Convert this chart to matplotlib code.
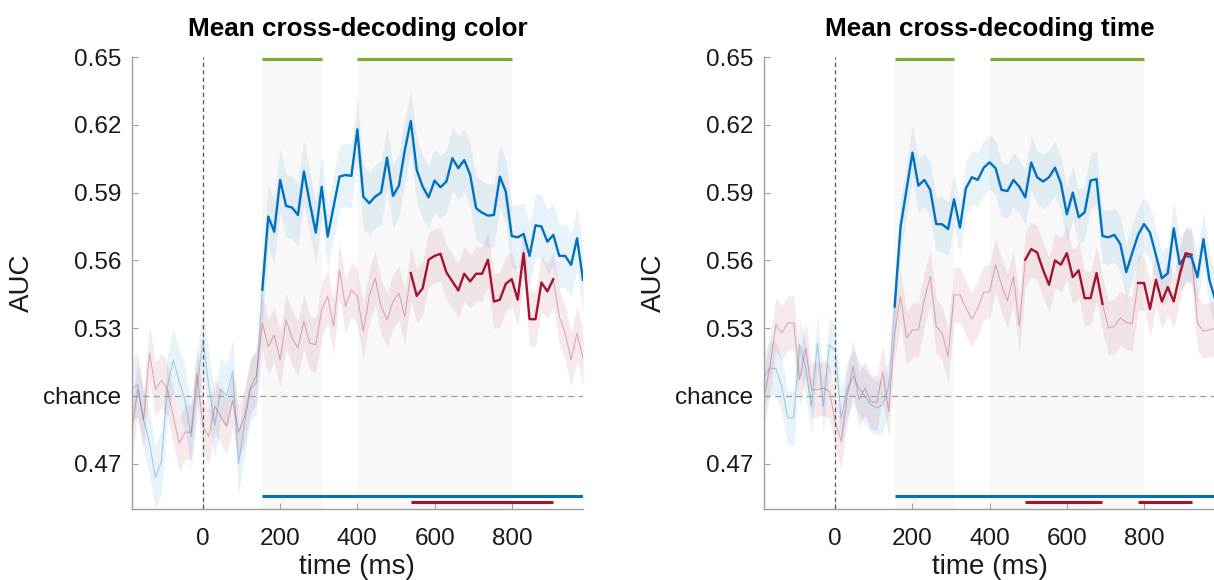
import numpy as np
import matplotlib
matplotlib.use("Agg")
import matplotlib.pyplot as plt

plt.rcParams['font.family'] = ['Liberation Sans', 'DejaVu Sans']

# ---------------- data ----------------
time_ms = np.linspace(-184, 984, 77)  # sampling grid (ms)

color_blue = [
    0.503, 0.505, 0.4895, 0.479, 0.464, 0.471, 0.504, 0.516, 0.5065, 0.498,
    0.482, 0.504, 0.525, 0.504, 0.487, 0.503, 0.500, 0.511, 0.470, 0.488,
    0.503, 0.506,
    0.5470, 0.5794, 0.5727, 0.5956, 0.5841, 0.5834, 0.5801, 0.5993, 0.5853, 0.5723,
    0.5926, 0.5705, 0.5838, 0.5971, 0.5978, 0.5974, 0.6180, 0.5882, 0.5853, 0.5882,
    0.5900, 0.6055, 0.5885, 0.5931, 0.6089, 0.6217, 0.6000, 0.5926, 0.5879, 0.5953,
    0.5924, 0.5949, 0.6052, 0.6008, 0.6044, 0.5978, 0.5831, 0.5811, 0.5798, 0.5801,
    0.5971, 0.5904, 0.5708, 0.5702, 0.5717, 0.5620, 0.5755, 0.5750, 0.5683, 0.5713,
    0.5620, 0.5620, 0.5580, 0.5698, 0.5514]

color_red = [
    0.4836, 0.503, 0.4895, 0.519, 0.503, 0.507, 0.503, 0.491, 0.479, 0.484,
    0.484, 0.510, 0.4866, 0.482, 0.4955, 0.491, 0.4866, 0.498, 0.484, 0.491,
    0.504, 0.509,
    0.5323, 0.5219, 0.5271, 0.5160, 0.5337, 0.5256, 0.5212, 0.5330, 0.5234, 0.5227,
    0.5382, 0.5441, 0.5308, 0.5559, 0.5396, 0.5470, 0.5441, 0.5286, 0.5441, 0.5522,
    0.5396, 0.5337, 0.5418, 0.5455, 0.5352, 0.5544, 0.5443, 0.5477, 0.5603, 0.5620,
    0.5629, 0.5547, 0.5507, 0.5467, 0.5541, 0.5507, 0.5541, 0.5541, 0.5603, 0.5418,
    0.5426, 0.5497, 0.5517, 0.5426, 0.5632, 0.5340, 0.5340, 0.5502, 0.5463, 0.5517,
    0.5352, 0.5278, 0.5160, 0.5278, 0.5168]

time_blue = [
    0.5084, 0.5124, 0.5121, 0.5043, 0.4903, 0.4903, 0.5227, 0.5124, 0.4954, 0.5234,
    0.4954, 0.5227, 0.5198, 0.4903, 0.5028, 0.5087, 0.5035, 0.4999, 0.4962, 0.4947,
    0.4962, 0.5043,
    0.5396, 0.5750, 0.5912, 0.6077, 0.5931, 0.5956, 0.5912, 0.5761, 0.5760, 0.5739,
    0.5870, 0.5745, 0.5919, 0.5968, 0.5956, 0.6010, 0.6034, 0.6008, 0.5912, 0.5907,
    0.5956, 0.5926, 0.5879, 0.6033, 0.5968, 0.5949, 0.5968, 0.6010, 0.5941, 0.5804,
    0.5900, 0.5791, 0.5813, 0.5953, 0.5960, 0.5708, 0.5702, 0.5713, 0.5673, 0.5548,
    0.5632, 0.5713, 0.5761, 0.5723, 0.5624, 0.5521, 0.5543, 0.5742, 0.5583, 0.5620,
    0.5614, 0.5526, 0.5694, 0.5514, 0.5425]

time_red = [
    0.499, 0.513, 0.5315, 0.5279, 0.5323, 0.5323, 0.5072, 0.5212, 0.5028, 0.5028,
    0.5035, 0.5021, 0.4888, 0.4800, 0.4999, 0.5131, 0.4984, 0.5035, 0.4976, 0.4969,
    0.5109, 0.4932,
    0.5279, 0.5441, 0.5256, 0.5293, 0.5293, 0.5426, 0.5529, 0.5308, 0.5278, 0.5175,
    0.5448, 0.5448, 0.5389, 0.5340, 0.5389, 0.5458, 0.5463, 0.5581, 0.5492, 0.5421,
    0.5529, 0.5308, 0.5603, 0.5650, 0.5635, 0.5558, 0.5492, 0.5600, 0.5581, 0.5632,
    0.5526, 0.5556, 0.5433, 0.5433, 0.5544, 0.5408, 0.5301, 0.5308, 0.5345, 0.5326,
    0.5320, 0.5500, 0.5500, 0.5385, 0.5514, 0.5418, 0.5482, 0.5418, 0.5536, 0.5632,
    0.5625, 0.5323, 0.5286, 0.5293, 0.5300]

sem_color_blue, sem_color_red = 0.014, 0.012
sem_time_blue, sem_time_red = 0.012, 0.012

# significance windows (ms)
color_green_win = [(154, 308), (400, 800)]
color_blue_win = [(154, 984)]
color_red_win = [(538, 907)]
time_green_win = [(154, 308), (400, 800)]
time_blue_win = [(154, 984)]
time_red_win = [(492, 692), (784, 923)]

titles = ["Mean cross-decoding color", "Mean cross-decoding time"]
ytick_vals = [0.47, 0.50, 0.53, 0.56, 0.59, 0.62, 0.65]
ytick_labels = ["0.47", "chance", "0.53", "0.56", "0.59", "0.62", "0.65"]
xtick_vals = [0, 200, 400, 600, 800]

# ---------------- style ----------------
BLUE = "#0072BD"
RED = "#A2142F"
GREEN = "#77AC30"
SHADE = "#f8f8f8"

W, H = 1214, 580
fig = plt.figure(figsize=(W / 100, H / 100), dpi=100)
ax_w, ax_h = 451.3 / W, 452 / H
bottom = 1 - 509 / H
axes = [fig.add_axes([131.7 / W, bottom, ax_w, ax_h]),
        fig.add_axes([764 / W, bottom, ax_w, ax_h])]

panels = [
    (color_blue, color_red, sem_color_blue, sem_color_red,
     color_green_win, color_blue_win, color_red_win),
    (time_blue, time_red, sem_time_blue, sem_time_red,
     time_green_win, time_blue_win, time_red_win),
]


def in_windows(t, wins):
    m = np.zeros_like(t, dtype=bool)
    for a, b in wins:
        m |= (t >= a - 1) & (t <= b + 1)
    return m


t = np.asarray(time_ms)
for ax, title, (yb, yr, sb, sr, gw, bw, rw) in zip(axes, titles, panels):
    yb = np.asarray(yb)
    yr = np.asarray(yr)
    for a, b in gw:
        ax.axvspan(a, b, color=SHADE, zorder=0, lw=0)
    ax.fill_between(t, yb - sb, yb + sb, color=BLUE, alpha=0.09, lw=0, zorder=1)
    ax.fill_between(t, yr - sr, yr + sr, color=RED, alpha=0.09, lw=0, zorder=1)
    ax.plot(t, yb, color=BLUE, alpha=0.3, lw=0.8, zorder=2)
    ax.plot(t, yr, color=RED, alpha=0.3, lw=0.8, zorder=2)
    ax.plot(t, np.where(in_windows(t, bw), yb, np.nan), color=BLUE, lw=1.7, zorder=4)
    ax.plot(t, np.where(in_windows(t, rw), yr, np.nan), color=RED, lw=1.7, zorder=4)

    ax.axvline(0, color="#555555", lw=0.9, dashes=(3.5, 2.5), zorder=3)
    ax.axhline(0.5, color="#a0a0a0", lw=0.9, dashes=(5, 3.5), zorder=3)

    for a, b in gw:
        ax.hlines(0.649, a, b, color=GREEN, lw=2.2, zorder=5, clip_on=False)
    for a, b in bw:
        ax.hlines(0.4558, a, b, color=BLUE, lw=2.2, zorder=5)
    for a, b in rw:
        ax.hlines(0.4532, a, b, color=RED, lw=2.2, zorder=5)

    ax.set_xlim(-184, 984)
    ax.set_ylim(0.45, 0.65)
    ax.set_yticks(ytick_vals)
    ax.set_yticklabels(ytick_labels)
    ax.set_xticks(xtick_vals)
    for s in ["top", "right"]:
        ax.spines[s].set_visible(False)
    for s in ["left", "bottom"]:
        ax.spines[s].set_color("#a0a0a0")
        ax.spines[s].set_linewidth(1.0)
    ax.tick_params(direction="in", length=4, width=0.8, color="#a0a0a0",
                   labelsize=17.5, labelcolor="#1a1a1a")
    ax.tick_params(axis="y", pad=7.5)
    ax.tick_params(axis="x", pad=13.5)
    ax.set_xlabel("time (ms)", fontsize=20, labelpad=3, color="#1a1a1a")
    ax.set_ylabel("AUC", fontsize=20, labelpad=6, color="#1a1a1a")
    ax.set_title(title, fontsize=18.8, fontweight="bold", pad=15)
    ax.set_facecolor("white")

fig.savefig("out.png", dpi=100)
